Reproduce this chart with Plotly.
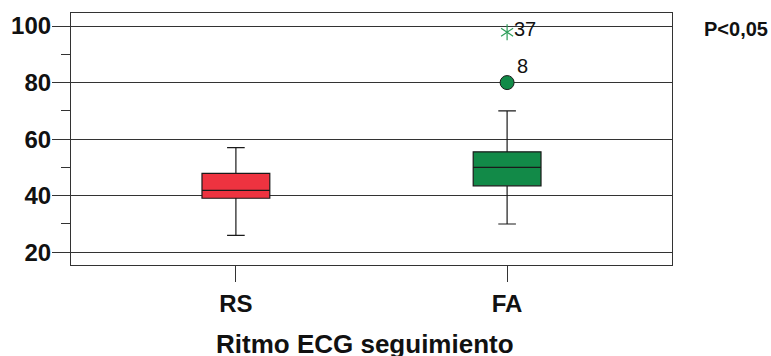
import plotly.graph_objects as go

# Group summary statistics (box plot per ECG rhythm group)
groups = ["RS", "FA"]
q1 = [39.1, 43.5]
median = [41.9, 50.0]
q3 = [47.9, 55.5]
lower_whisker = [26.0, 30.0]
upper_whisker = [57.0, 70.0]
box_colors = ["#ee3340", "#128a48"]

# Outlying cases in the FA group: (case id, value)
outlier_ids = ["8"]
outlier_values = [80.0]
extreme_ids = ["37"]
extreme_values = [97.8]

y_ticks = [20, 40, 60, 80, 100]

FONT = "Liberation Sans, Arial, sans-serif"
LINE = "#333333"

fig = go.Figure()

for i, g in enumerate(groups):
    fig.add_trace(go.Box(
        x=[g],
        q1=[q1[i]],
        median=[median[i]],
        q3=[q3[i]],
        lowerfence=[lower_whisker[i]],
        upperfence=[upper_whisker[i]],
        fillcolor=box_colors[i],
        line=dict(color="#1a1a1a", width=1.2),
        width=0.25,
        whiskerwidth=0.26,
        boxpoints=False,
        showlegend=False,
        hoverinfo="skip",
    ))

# Outlier (circle)
fig.add_trace(go.Scatter(
    x=["FA"] * len(outlier_values), y=outlier_values, mode="markers",
    marker=dict(symbol="circle", size=14, color="#128a48",
                line=dict(color="#1a1a1a", width=1)),
    showlegend=False, hoverinfo="skip",
))
# Extreme value (six-armed asterisk built from two three-armed marks)
for sym in ["y-up-open", "y-down-open"]:
    fig.add_trace(go.Scatter(
        x=["FA"] * len(extreme_values), y=extreme_values, mode="markers",
        marker=dict(symbol=sym, size=10, color="#2e9e5a",
                    line=dict(color="#2e9e5a", width=1.2)),
        showlegend=False, hoverinfo="skip",
    ))

for cid, v in zip(outlier_ids, outlier_values):
    fig.add_annotation(x="FA", y=v, text=cid, showarrow=False,
                       xanchor="left", yanchor="bottom", xshift=8, yshift=4,
                       font=dict(family=FONT, size=20, color="#111111"))
for cid, v in zip(extreme_ids, extreme_values):
    fig.add_annotation(x="FA", y=v, text=cid, showarrow=False,
                       xanchor="left", yanchor="middle", xshift=5, yshift=3,
                       font=dict(family=FONT, size=20, color="#111111"))

fig.add_annotation(xref="paper", yref="paper", x=1.05, y=0.935,
                   text="P<0,05", showarrow=False, xanchor="left", yanchor="middle",
                   font=dict(family=FONT, size=20, color="#111111", weight="bold"))

# Axis title
fig.add_annotation(xref="paper", yref="paper", x=0.49, y=-0.315,
                   text="Ritmo ECG seguimiento", showarrow=False,
                   xanchor="center", yanchor="middle",
                   font=dict(family=FONT, size=26, color="#111111", weight="bold"))

fig.update_xaxes(
    type="category",
    categoryorder="array", categoryarray=groups,
    range=[-0.608, 1.608],
    automargin=False,
    showline=True, linecolor=LINE, linewidth=1.2, mirror=True,
    ticks="outside", ticklen=16, tickcolor=LINE, tickwidth=1,
    ticklabelstandoff=1,
    showgrid=False, zeroline=False,
    tickfont=dict(family=FONT, size=24, color="#111111", weight="bold"),
)
fig.update_yaxes(
    range=[15.5, 104.6],
    automargin=False,
    tickvals=y_ticks, ticktext=[str(t) for t in y_ticks],
    showline=True, linecolor=LINE, linewidth=1.2, mirror=True,
    ticks="outside", ticklen=18, tickcolor=LINE, tickwidth=1,
    ticklabelstandoff=-4,
    minor=dict(ticks="outside", ticklen=9, tickcolor=LINE, dtick=10, tick0=0,
               showgrid=False),
    showgrid=True, gridcolor=LINE, gridwidth=1,
    zeroline=False,
    tickfont=dict(family=FONT, size=24, color="#111111", weight="bold"),
)

fig.update_layout(
    width=771, height=356,
    margin=dict(l=71, r=99, t=13, b=91),
    paper_bgcolor="white", plot_bgcolor="white",
    showlegend=False,
)

fig.write_html("out.html")
